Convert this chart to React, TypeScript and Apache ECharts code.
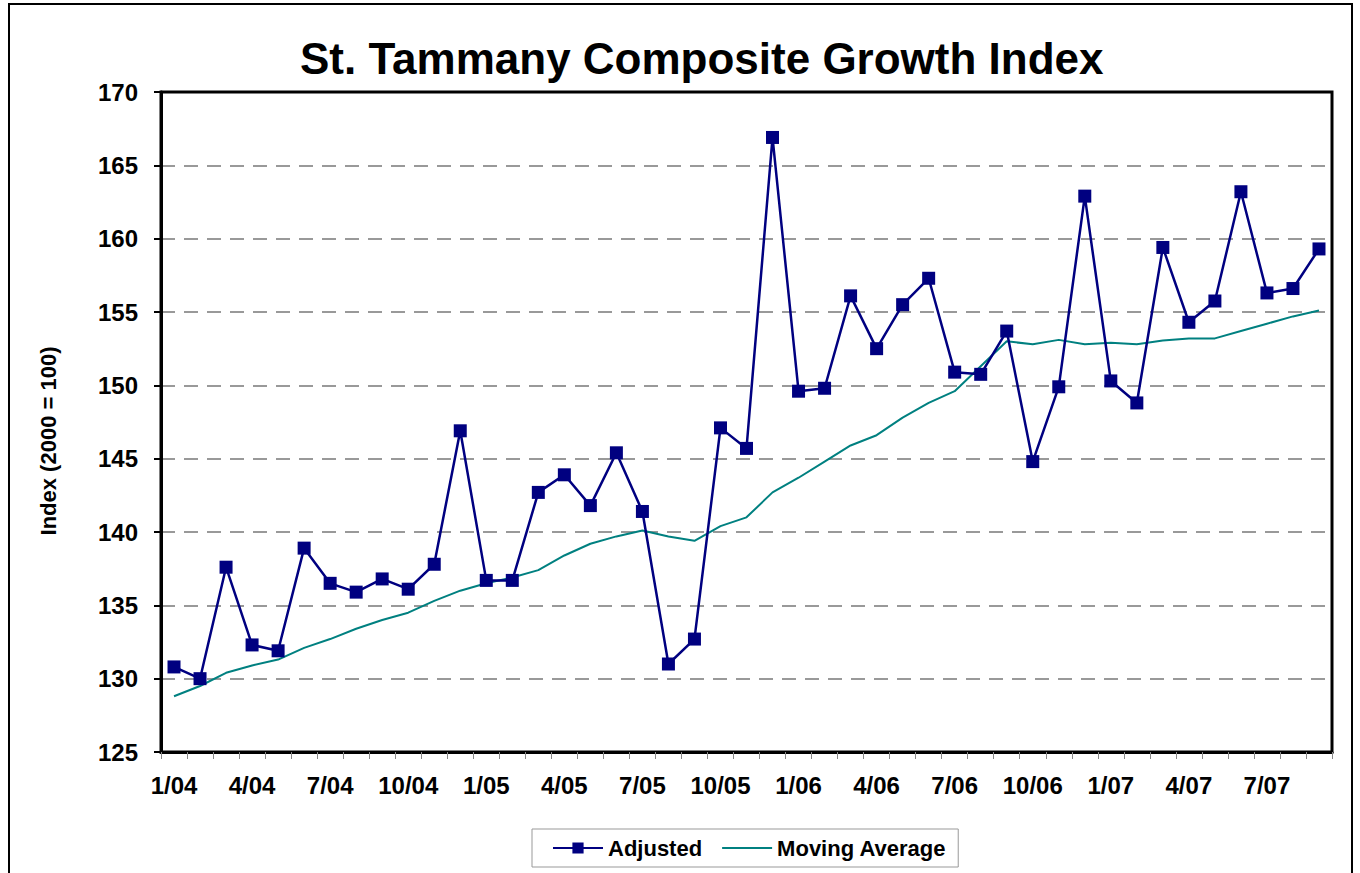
import React, { useEffect, useRef } from "react";
import * as echarts from "echarts";

const months: string[] = [
  "1/04","2/04","3/04","4/04","5/04","6/04","7/04","8/04","9/04","10/04","11/04","12/04",
  "1/05","2/05","3/05","4/05","5/05","6/05","7/05","8/05","9/05","10/05","11/05","12/05",
  "1/06","2/06","3/06","4/06","5/06","6/06","7/06","8/06","9/06","10/06","11/06","12/06",
  "1/07","2/07","3/07","4/07","5/07","6/07","7/07","8/07","9/07",
];

const adjusted: number[] = [
  130.8, 130.0, 137.6, 132.3, 131.9, 138.9, 136.5, 135.9, 136.8, 136.1, 137.8, 146.9,
  136.7, 136.7, 142.7, 143.9, 141.8, 145.4, 141.4, 131.0, 132.7, 147.1, 145.7, 166.9,
  149.6, 149.8, 156.1, 152.5, 155.5, 157.3, 150.9, 150.75, 153.7, 144.8, 149.9, 162.9,
  150.3, 148.8, 159.4, 154.3, 155.75, 163.2, 156.3, 156.6, 159.3,
];

const movingAverage: number[] = [
  128.8, 129.5, 130.4, 130.9, 131.3, 132.1, 132.7, 133.4, 134.0, 134.5, 135.3, 136.0,
  136.5, 136.9, 137.4, 138.4, 139.2, 139.7, 140.1, 139.7, 139.4, 140.4, 141.0, 142.7,
  143.7, 144.8, 145.9, 146.6, 147.8, 148.8, 149.6, 151.3, 153.0, 152.8, 153.1, 152.8,
  152.9, 152.8, 153.05, 153.2, 153.2, 153.7, 154.2, 154.7, 155.1,
];

const titleText = "St. Tammany Composite Growth Index";
const yAxisTitle = "Index (2000 = 100)";
const seriesNames = ["Adjusted", "Moving Average"];

const FONT = "'Liberation Sans', Arial, Helvetica, sans-serif";

export default function App() {
  const ref = useRef<HTMLDivElement>(null);
  useEffect(() => {
    if (!ref.current) return;
    const chart = echarts.init(ref.current, undefined, { renderer: "svg" });
    chart.setOption({
      animation: false,
      backgroundColor: "#ffffff",
      textStyle: { fontFamily: FONT },
      title: {
        text: titleText,
        left: 300,
        top: 36,
        padding: 0,
        textStyle: { fontFamily: FONT, fontSize: 44, fontWeight: "bold", color: "#000" },
      },
      graphic: [
        {
          type: "rect",
          shape: { x: 9, y: 4, width: 1343, height: 900 },
          style: { fill: "none", stroke: "#000", lineWidth: 2 },
          silent: true,
        },
        {
          type: "text",
          x: 48,
          y: 441,
          rotation: Math.PI / 2,
          style: {
            text: yAxisTitle,
            fontFamily: FONT,
            fontSize: 22,
            fontWeight: "bold",
            fill: "#000",
            align: "center",
            verticalAlign: "middle",
          },
        },
      ],
      legend: {
        left: 532,
        top: 829,
        data: [
          { name: seriesNames[0] },
          { name: seriesNames[1], icon: "path://M0,0 L50,0 L50,2 L0,2 Z" },
        ],
        itemWidth: 50,
        itemHeight: 14,
        itemGap: 20,
        padding: [8, 12, 8, 20],
        borderColor: "#999",
        borderWidth: 1,
        textStyle: { fontFamily: FONT, fontSize: 22, fontWeight: "bold", color: "#000" },
      },
      grid: {
        left: 161,
        right: 28,
        top: 92,
        bottom: 121,
        show: true,
        borderColor: "#000",
        borderWidth: 3,
      },
      xAxis: {
        type: "category",
        data: months,
        boundaryGap: true,
        axisLine: { show: true, lineStyle: { color: "#000", width: 3 } },
        axisTick: { show: true, interval: 0, length: 7, lineStyle: { color: "#888", width: 1 } },
        axisLabel: {
          interval: 2,
          margin: 21,
          fontFamily: FONT,
          fontSize: 24,
          fontWeight: "bold",
          color: "#000",
        },
        splitLine: { show: false },
      },
      yAxis: {
        type: "value",
        min: 125,
        max: 170,
        interval: 5,
        axisLine: { show: true, lineStyle: { color: "#000", width: 3 } },
        axisTick: { show: true, length: 7, lineStyle: { color: "#000", width: 2 } },
        axisLabel: {
          margin: 23,
          fontFamily: FONT,
          fontSize: 24,
          fontWeight: "bold",
          color: "#000",
        },
        splitLine: {
          show: true,
          showMinLine: false,
          showMaxLine: false,
          lineStyle: { color: "#999", width: 2, type: [14, 9] },
        },
      },
      series: [
        {
          name: seriesNames[0],
          type: "line",
          data: adjusted,
          symbol: "rect",
          symbolSize: 13,
          showAllSymbol: true,
          itemStyle: { color: "#000080" },
          lineStyle: { color: "#000080", width: 2.5 },
          z: 3,
        },
        {
          name: seriesNames[1],
          type: "line",
          data: movingAverage,
          symbol: "none",
          itemStyle: { color: "#008080" },
          lineStyle: { color: "#008080", width: 2 },
          z: 2,
        },
      ],
    });
    return () => chart.dispose();
  }, []);
  return (
    <div
      ref={ref}
      style={{ position: "absolute", left: 0, top: 0, width: 1360, height: 873 }}
    />
  );
}
